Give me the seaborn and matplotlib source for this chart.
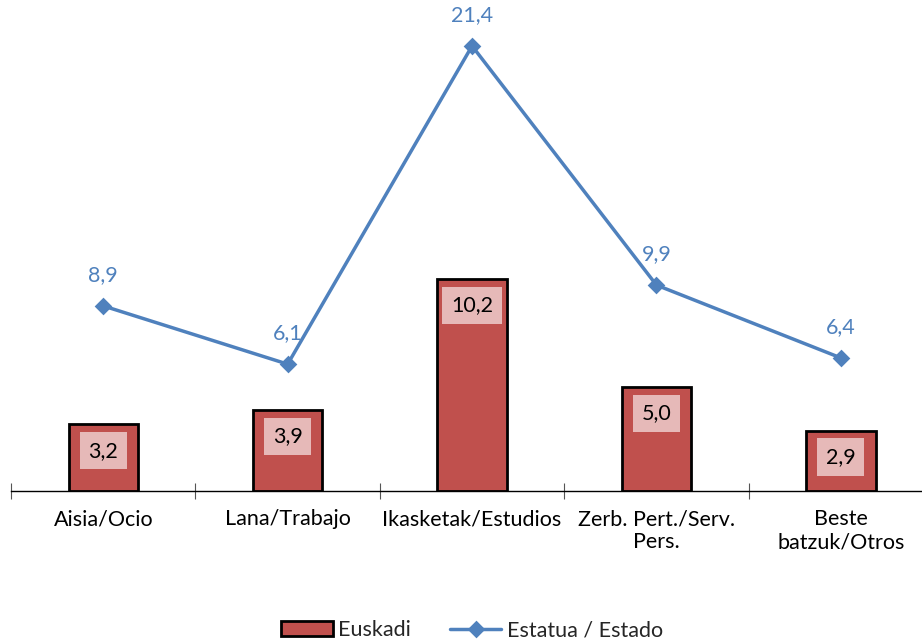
import matplotlib
matplotlib.use("Agg")
import matplotlib.pyplot as plt
import seaborn as sns
import numpy as np

categories = ["Aisia/Ocio", "Lana/Trabajo", "Ikasketak/Estudios",
              "Zerb. Pert./Serv.\nPers.", "Beste\nbatzuk/Otros"]
euskadi = [3.2, 3.9, 10.2, 5.0, 2.9]
estado = [8.9, 6.1, 21.4, 9.9, 6.4]

sns.set_theme(style="white")
plt.rcParams['font.family'] = ['Lato', 'DejaVu Sans']

red = "#C0504D"
blue = "#4F81BD"
fs = 15.5

fig = plt.figure(figsize=(9.22, 6.41), dpi=100)
ax = fig.add_axes([0.012, 0.234, 1.0, 0.73])

sns.barplot(x=categories, y=euskadi, color=red, width=0.376,
            edgecolor="black", linewidth=2, saturation=1, ax=ax,
            label="Euskadi")
sns.pointplot(x=categories, y=estado, color=blue, markers="D",
              markersize=7, linewidth=2.5, ax=ax,
              label="Estatua / Estado")

fmt = lambda v: f"{v:.1f}".replace(".", ",")

# labels inside bars
for i, v in enumerate(euskadi):
    ax.annotate(fmt(v), (i, v), xytext=(0, -19), textcoords="offset points",
                ha="center", va="center", fontsize=fs, color="black",
                bbox=dict(boxstyle="square,pad=0.4", fc="#E6B9B8", ec="none"))

# labels above line points
for i, v in enumerate(estado):
    ax.annotate(fmt(v), (i, v), xytext=(0, 22), textcoords="offset points",
                ha="center", va="center", fontsize=fs, color=blue,
                annotation_clip=False)

ax.set_xlim(-0.5, 4.5)
ax.set_ylim(0, 22.5)
ax.set_yticks([])
for s in ["top", "right", "left"]:
    ax.spines[s].set_visible(False)
ax.spines["bottom"].set_color("black")
ax.spines["bottom"].set_linewidth(1)

ax.set_xticks(np.arange(5))
ax.set_xticklabels(categories, fontsize=fs, color="black")
ax.tick_params(axis="x", which="major", length=0, pad=13)
ax.set_xticks(np.arange(-0.5, 5, 1), minor=True)
ax.tick_params(axis="x", which="minor", bottom=True, direction="inout",
               length=11, width=0.8, color="#555555")
ax.set_xlabel("")

handles, labels = ax.get_legend_handles_labels()
order = [labels.index("Euskadi"), labels.index("Estatua / Estado")]
ax.legend([handles[k] for k in order], [labels[k] for k in order],
          loc="lower center", bbox_to_anchor=(0.5, -0.36),
          ncol=2, frameon=False, fontsize=fs, handlelength=2.4,
          columnspacing=1.8, handletextpad=0.25)

fig.savefig("out.png", dpi=100)
